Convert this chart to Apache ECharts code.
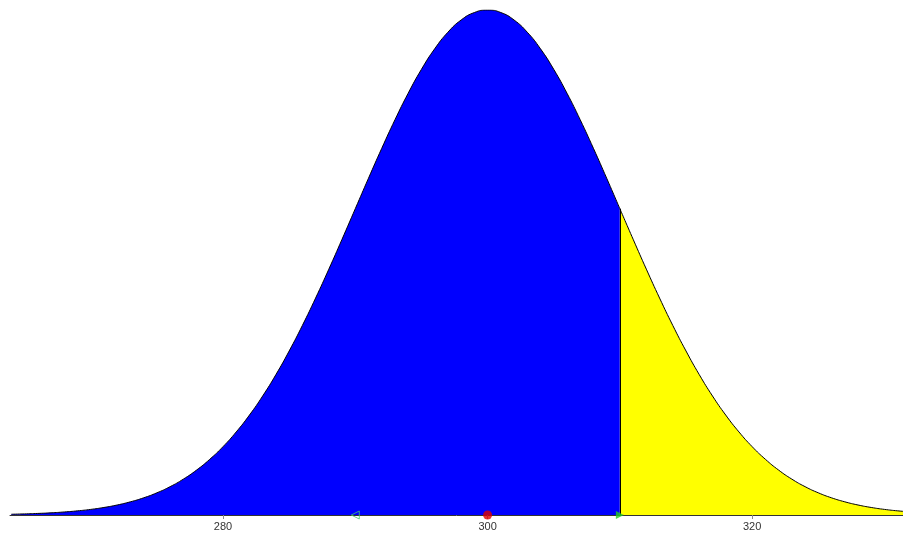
<!DOCTYPE html>
<html>
<head>
<meta charset="utf-8">
<script src="https://cdn.jsdelivr.net/npm/echarts@6/dist/echarts.min.js"></script>
<style>
  html, body { margin: 0; padding: 0; background: #fff; }
  #chart { width: 903px; height: 533px; }
</style>
</head>
<body>
<div id="chart"></div>
<script>
  // curve heights (% of peak)
  var blueX = [264, 265, 266, 267, 268, 269, 270, 271, 272, 273, 274, 275, 276, 277, 278, 279,
    280, 281, 282, 283, 284, 285, 286, 287, 288, 289, 290, 291, 292, 293, 294, 295, 296, 297,
    298, 299, 300, 301, 302, 303, 304, 305, 306, 307, 308, 309, 310];
  var blueY = [0.15, 0.22, 0.31, 0.43, 0.60, 0.82, 1.11, 1.49, 1.98, 2.61, 3.40, 4.39, 5.61, 7.10,
    8.89, 11.03, 13.53, 16.45, 19.79, 23.57, 27.80, 32.47, 37.53, 42.96, 48.68, 54.61, 60.65,
    66.70, 72.61, 78.27, 83.53, 88.25, 92.31, 95.60, 98.02, 99.50, 100, 99.50, 98.02, 95.60,
    92.31, 88.25, 83.53, 78.27, 72.61, 66.70, 60.65];
  var yellowX = [310, 311, 312, 313, 314, 315, 316, 317, 318, 319, 320, 321, 322, 323, 324, 325,
    326, 327, 328, 329, 330, 331, 332];
  var yellowY = [60.65, 54.61, 48.68, 42.96, 37.53, 32.47, 27.80, 23.57, 19.79, 16.45, 13.53,
    11.03, 8.89, 7.10, 5.61, 4.39, 3.40, 2.61, 1.98, 1.49, 1.11, 0.82, 0.60];
  var tickValues = [280, 300, 320];
  var meanX = 300;
  var lowX = 290;
  var cutX = 310;

  function pairs(xs, ys) {
    return xs.map(function (x, i) { return [x, ys[i]]; });
  }

  var myChart = echarts.init(document.getElementById('chart'));

  var option = {
    animation: false,
    grid: { left: 10, right: 0, top: 10, bottom: 18 },
    xAxis: {
      type: 'value',
      min: 263.9,
      max: 331.4,
      splitLine: { show: false },
      axisLine: { lineStyle: { color: '#333', width: 1 } },
      axisTick: { customValues: tickValues, length: 4, lineStyle: { color: '#888' } },
      axisLabel: {
        customValues: tickValues,
        color: '#333',
        fontSize: 11,
        fontFamily: 'Liberation Sans',
        margin: 6
      }
    },
    yAxis: { type: 'value', min: 0, max: 100, show: false },
    series: [
      {
        type: 'line',
        data: pairs(blueX, blueY),
        smooth: true,
        showSymbol: false,
        lineStyle: { color: '#000', width: 1 },
        areaStyle: { color: '#0000ff', opacity: 1 },
        markLine: {
          silent: true,
          symbol: 'none',
          label: { show: false },
          lineStyle: { color: '#000', width: 1, type: 'solid' },
          data: [[{ coord: [cutX, 0] }, { coord: [cutX, yellowY[0]] }]]
        }
      },
      {
        type: 'line',
        data: pairs(yellowX, yellowY),
        smooth: true,
        showSymbol: false,
        lineStyle: { color: '#000', width: 1 },
        areaStyle: { color: '#ffff00', opacity: 1 }
      },
      {
        type: 'scatter',
        clip: false,
        z: 5,
        data: [
          { value: [meanX, 0], symbol: 'circle', symbolSize: 9, itemStyle: { color: '#e00000' } },
          { value: [cutX, 0], symbol: 'triangle', symbolRotate: -90, symbolSize: 8, itemStyle: { color: '#22cc22' } },
          { value: [lowX, 0], symbol: 'triangle', symbolRotate: 90, symbolSize: 8,
            itemStyle: { color: 'transparent', borderColor: '#44cc66', borderWidth: 1 } }
        ]
      }
    ]
  };

  myChart.setOption(option);
</script>
</body>
</html>
